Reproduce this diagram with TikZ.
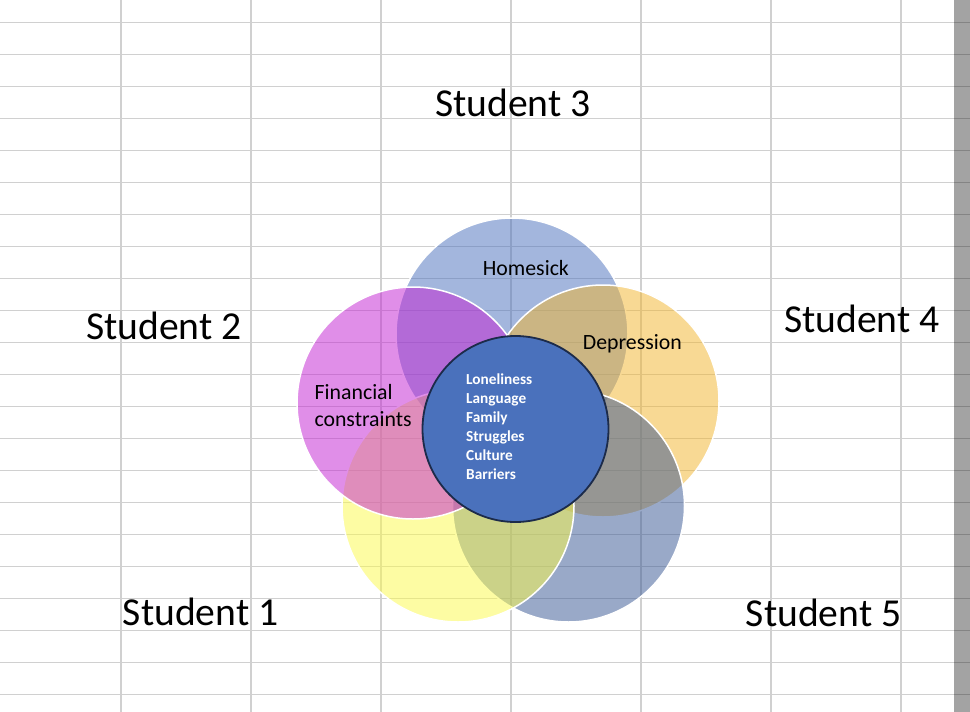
\documentclass[tikz,border=0pt]{standalone}
\usepackage{fontspec}
\setmainfont{Carlito}
\definecolor{gridc}{HTML}{D0D0D0}
\definecolor{cthree}{RGB}{73,111,189}
\definecolor{ctwo}{RGB}{195,31,211}
\definecolor{cfour}{RGB}{243,181,43}
\definecolor{cone}{RGB}{253,251,73}
\definecolor{cfive}{RGB}{53,85,147}
\definecolor{centerfill}{HTML}{4A71BC}
\definecolor{centerline}{HTML}{1C2B4A}
\tikzset{
  gridline/.style={draw=gridc, line width=1.5pt},
  petal/.style={circle, inner sep=0pt, minimum size=232pt, fill opacity=0.5, draw=white, draw opacity=1, line width=1.5pt},
  hub/.style={circle, inner sep=0pt, minimum size=186pt, fill=centerfill, draw=centerline, line width=1.8pt},
  student/.style={anchor=base west, inner sep=0pt, font=\fontsize{39.6}{47}\selectfont},
  issue/.style={anchor=base west, inner sep=0pt, font=\fontsize{21.8}{26}\selectfont},
  hubtext/.style={anchor=base west, inner sep=0pt, text=white, font=\fontsize{15.3}{19}\selectfont\bfseries},
}
\begin{document}
\begin{tikzpicture}[x=1pt,y=-1pt]
\useasboundingbox (0,0) rectangle (970,712);
\fill[white] (0,0) rectangle (970,712);
% spreadsheet grid
\foreach \k in {0,...,21} {
  \draw[gridline] (0,22.7+32*\k) -- (970,22.7+32*\k);
}
\foreach \k in {0,...,6} {
  \draw[gridline] (120.8+130*\k,0) -- (120.8+130*\k,712);
}
% petals
\node[petal, fill=cthree] (s3) at (512,334) {};
\node[petal, fill=cfour] (s4) at (603,401) {};
\node[petal, fill=cfive] (s5) at (568.5,506) {};
\node[petal, fill=cone] (s1) at (458,506) {};
\node[petal, fill=ctwo] (s2) at (413,403) {};
% hub
\node[hub] (hub) at (515.5,429) {};
% hub text
\node[hubtext] (h1) at (466,384) {Loneliness};
\node[hubtext] (h2) at (466,403.1) {Language};
\node[hubtext] (h3) at (466,422.2) {Family};
\node[hubtext] (h4) at (466,441.3) {Struggles};
\node[hubtext] (h5) at (466,460.4) {Culture};
\node[hubtext] (h6) at (466,479.5) {Barriers};
% issue labels
\node[issue] (homesick) at (482.7,275) {Homesick};
\node[issue] (depression) at (582.7,349) {Depression};
\node[issue] (fin1) at (314.5,399.3) {Financial};
\node[issue] (fin2) at (314.3,426.7) {constraints};
% student labels
\node[student] (lab3) at (435,116) {Student 3};
\node[student] (lab2) at (86,339.3) {Student 2};
\node[student] (lab4) at (784,332.3) {Student 4};
\node[student] (lab1) at (122.7,625) {Student 1};
\node[student] (lab5) at (745.7,626.7) {Student 5};
% scrollbar edge
\fill[black, fill opacity=0.36] (954,0) rectangle (970,712);
\end{tikzpicture}
\end{document}
